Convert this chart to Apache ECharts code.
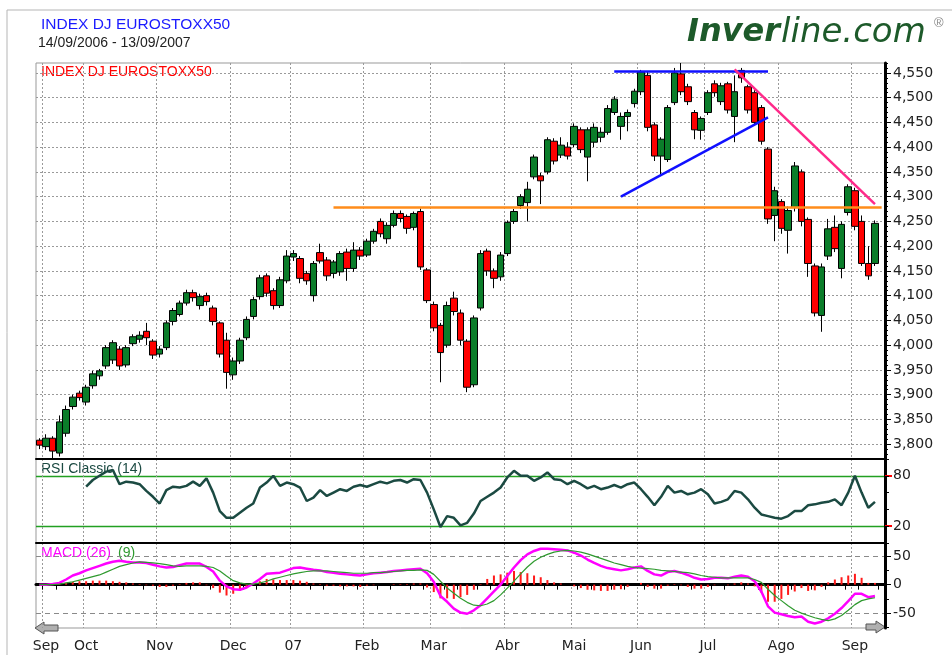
<!DOCTYPE html>
<html>
<head>
<meta charset="utf-8">
<title>INDEX DJ EUROSTOXX50</title>
<script src="https://cdn.jsdelivr.net/npm/echarts@6/dist/echarts.min.js"></script>
<style>
  html, body { margin: 0; padding: 0; background: #fff; }
  #chart { width: 952px; height: 655px; }
</style>
</head>
<body>
<div id="chart"></div>
<script>
// x axis: one slot per two trading days, 14/09/2006 - 13/09/2007
const categories = Array.from({ length: 127 }, (_, i) => 'd' + i);
const monthNames = ['Sep', 'Oct', 'Nov', 'Dec', '07', 'Feb', 'Mar', 'Abr', 'Mai', 'Jun', 'Jul', 'Ago', 'Sep'];
const monthStarts = [1, 7, 18, 29, 38, 49, 59, 70, 80, 90, 100, 111, 122];

// y tick labels
const priceTicks = [3800, 3850, 3900, 3950, 4000, 4050, 4100, 4150, 4200, 4250, 4300, 4350, 4400, 4450, 4500, 4550];
const rsiTicks = [20, 80];
const macdTicks = [-50, 0, 50];
const macdMinorTicks = [-75, -50, -25, 0, 25, 50];

// [open, close, low, high]
const candles = [
  [3808, 3798, 3790, 3812], [3795, 3812, 3788, 3820], [3812, 3786, 3772, 3816], [3782, 3845, 3775, 3858], [3822, 3870, 3815, 3878],
  [3876, 3895, 3870, 3900], [3903, 3894, 3888, 3908], [3885, 3915, 3878, 3920], [3918, 3942, 3912, 3948], [3938, 3948, 3930, 3952],
  [3958, 3995, 3952, 4000], [3970, 4005, 3962, 4010], [3992, 3958, 3950, 3998], [3960, 3995, 3955, 4000], [4003, 4017, 3998, 4022],
  [4012, 4020, 4005, 4028], [4028, 4015, 4000, 4045], [4008, 3980, 3972, 4012], [3982, 3992, 3975, 3998], [3995, 4045, 3990, 4050],
  [4048, 4070, 4040, 4075], [4062, 4085, 4058, 4090], [4085, 4106, 4080, 4112], [4106, 4096, 4088, 4112], [4080, 4098, 4072, 4104],
  [4100, 4088, 4080, 4106], [4075, 4048, 4040, 4080], [4045, 3982, 3975, 4048], [4010, 3945, 3912, 4025], [3940, 3968, 3930, 3975],
  [3968, 4010, 3962, 4015], [4015, 4052, 4010, 4058], [4058, 4092, 4052, 4098], [4098, 4136, 4092, 4142], [4140, 4105, 4098, 4145],
  [4110, 4080, 4072, 4115], [4080, 4132, 4075, 4138], [4130, 4180, 4125, 4192], [4178, 4185, 4170, 4192], [4175, 4135, 4125, 4180],
  [4145, 4130, 4122, 4150], [4100, 4165, 4088, 4170], [4187, 4170, 4165, 4205], [4172, 4140, 4130, 4178], [4145, 4168, 4135, 4172],
  [4148, 4185, 4140, 4190], [4188, 4155, 4130, 4195], [4155, 4192, 4148, 4208], [4192, 4180, 4172, 4198], [4182, 4210, 4178, 4215],
  [4210, 4230, 4205, 4235], [4250, 4225, 4218, 4256], [4215, 4242, 4205, 4248], [4242, 4266, 4238, 4272], [4266, 4256, 4248, 4272],
  [4260, 4236, 4225, 4264], [4238, 4266, 4232, 4270], [4270, 4158, 4152, 4276], [4152, 4090, 4085, 4156], [4082, 4035, 4028, 4088],
  [4040, 3985, 3925, 4045], [4000, 4080, 3995, 4088], [4095, 4068, 4060, 4108], [4065, 4010, 4000, 4072], [4008, 3915, 3905, 4012],
  [3920, 4055, 3915, 4060], [4075, 4185, 4070, 4192], [4190, 4150, 4140, 4195], [4150, 4135, 4115, 4155], [4138, 4182, 4130, 4188],
  [4185, 4248, 4180, 4252], [4250, 4270, 4245, 4275], [4282, 4300, 4275, 4305], [4288, 4315, 4250, 4330], [4340, 4380, 4335, 4385],
  [4342, 4332, 4285, 4348], [4350, 4415, 4345, 4420], [4412, 4372, 4365, 4418], [4384, 4404, 4378, 4420], [4400, 4382, 4375, 4410],
  [4405, 4442, 4400, 4448], [4435, 4395, 4388, 4440], [4380, 4435, 4331, 4440], [4410, 4440, 4400, 4448], [4420, 4430, 4410, 4440],
  [4430, 4478, 4425, 4485], [4470, 4497, 4465, 4503], [4442, 4462, 4415, 4470], [4462, 4470, 4432, 4476], [4488, 4513, 4480, 4518],
  [4512, 4552, 4505, 4556], [4545, 4440, 4432, 4552], [4445, 4382, 4372, 4450], [4382, 4416, 4345, 4420], [4375, 4480, 4370, 4485],
  [4490, 4550, 4485, 4560], [4548, 4512, 4505, 4570], [4522, 4492, 4485, 4528], [4470, 4435, 4416, 4475], [4434, 4458, 4415, 4462],
  [4470, 4510, 4465, 4515], [4528, 4510, 4502, 4535], [4492, 4524, 4485, 4530], [4528, 4475, 4468, 4532], [4462, 4512, 4410, 4545],
  [4555, 4540, 4530, 4560], [4522, 4475, 4468, 4526], [4510, 4450, 4445, 4515], [4480, 4412, 4405, 4485], [4396, 4255, 4245, 4400],
  [4262, 4312, 4210, 4320], [4290, 4236, 4225, 4295], [4232, 4272, 4185, 4280], [4278, 4362, 4270, 4370], [4350, 4250, 4240, 4355],
  [4254, 4165, 4138, 4258], [4160, 4065, 4058, 4165], [4060, 4158, 4027, 4165], [4180, 4235, 4172, 4255], [4238, 4195, 4188, 4262],
  [4155, 4244, 4135, 4250], [4268, 4320, 4262, 4325], [4312, 4240, 4232, 4318], [4250, 4165, 4160, 4262], [4165, 4140, 4132, 4200],
  [4165, 4246, 4160, 4252]
];

const rsi = [
  null, null, null, null, null, null, null, 67, 75, 80,
  85, 87, 70, 73, 72, 70, 62, 55, 47, 63,
  67, 66, 68, 73, 68, 77, 60, 38, 30, 30,
  36, 42, 47, 66, 72, 80, 68, 72, 70, 66,
  50, 54, 63, 56, 60, 64, 62, 67, 69, 67,
  70, 73, 71, 74, 75, 72, 76, 75, 60, 40,
  19, 32, 30, 21, 24, 35, 50, 55, 60, 66,
  78, 86, 80, 80, 74, 78, 84, 76, 75, 70,
  74, 70, 65, 68, 64, 66, 69, 66, 70, 72,
  64, 55, 45, 55, 68, 60, 62, 58, 60, 64,
  58, 47, 49, 52, 62, 60, 52, 42, 34, 32,
  30, 29, 32, 38, 38, 45, 46, 48, 49, 52,
  45, 60, 80, 60, 42, 49
];

const macd = [
  0, 0, 1, 3, 9, 16, 20, 25, 29, 33,
  37, 40, 42, 40, 39, 39, 38, 35, 32, 30,
  31, 34, 37, 37, 37, 31, 23, 7, -3, -8,
  -9, -5, 2, 10, 19, 20, 21, 25, 29, 30,
  28, 26, 25, 22, 21, 19, 18, 17, 16, 18,
  20, 21, 22, 24, 25, 26, 27, 28, 20, 5,
  -20, -30, -42, -49, -51, -45, -36, -24, -12, 0,
  15, 30, 43, 53, 59, 63, 63, 62, 61, 60,
  56, 51, 44, 38, 33, 29, 27, 25, 27, 30,
  32, 24, 18, 16, 22, 24, 21, 17, 12, 9,
  10, 12, 12, 11, 14, 16, 14, 6, -12, -38,
  -49, -52, -55, -57, -56, -65, -68, -65, -59, -51,
  -41, -29, -16, -16, -22, -20
];

const signal = [
  0, 0, 0, 1, 3, 5, 8, 11, 14, 17,
  22, 27, 32, 35, 38, 40, 39, 38, 37, 35,
  33, 32, 33, 33, 33, 32, 30, 24, 15, 7,
  3, 1, 1, 3, 6, 10, 13, 16, 19, 21,
  23, 24, 24, 24, 23, 22, 21, 20, 20, 20,
  21, 21, 22, 23, 24, 25, 25, 26, 25, 18,
  6, -6, -15, -24, -31, -36, -37, -34, -28, -18,
  -6, 6, 19, 31, 41, 48, 53, 57, 59, 60,
  59, 57, 54, 50, 46, 42, 38, 35, 32, 30,
  29, 28, 27, 25, 24, 23, 22, 21, 19, 16,
  14, 13, 12, 12, 12, 12, 12, 9, 4, -8,
  -19, -28, -37, -45, -50, -54, -58, -61, -63, -60,
  -54, -45, -35, -28, -25, -23
];

const histogram = [
  0, 0, 1, 2, 3, 5, 6, 6, 7, 7,
  7, 6, 5, 4, 2, 1, -1, -2, -4, -4,
  -2, 1, 3, 4, 4, -1, -6, -14, -19, -16,
  -11, -6, 1, 6, 10, 9, 8, 8, 8, 7,
  5, 2, 1, -2, -2, -3, -3, -3, -4, -2,
  -1, 0, 0, 1, 1, 1, 2, 2, -5, -13,
  -24, -24, -25, -22, -18, -9, 1, 10, 16, 18,
  21, 24, 22, 20, 16, 13, 8, 4, 2, 0,
  -3, -6, -9, -10, -11, -11, -9, -8, -4, 0,
  3, -4, -7, -7, -2, 1, -1, -4, -7, -7,
  -4, -1, 0, -1, 2, 4, 2, -3, -14, -30,
  -30, -25, -18, -12, -6, -11, -10, -4, 4, 9,
  13, 16, 19, 12, 3, 3
];

// hand-drawn trend lines: [startSlot, startValue, endSlot, endValue, colour]
const trendLines = [
  [44, 4278, 126, 4278, '#ff8c1a'],
  [86, 4553, 109, 4553, '#1010ff'],
  [87, 4300, 109, 4460, '#1010ff'],
  [104, 4557, 125, 4285, '#ff2a8a']
];

const AXIS_FONT = '"DejaVu Sans", Verdana, sans-serif';
const TITLE_FONT = '"Liberation Sans", Arial, sans-serif';
const isMonthStart = (i) => monthStarts.indexOf(i) >= 0;
// marcas semanales bajo el eje (cada 2-3 huecos)
const isWeekTick = (i) => i % 5 === 1 || i % 5 === 3;

function xAxisFor(gridIndex) {
  const last = gridIndex === 2;
  return {
    type: 'category',
    gridIndex: gridIndex,
    data: categories,
    boundaryGap: true,
    axisLine: { show: true, lineStyle: { color: '#000', width: last ? 3 : 2 } },
    axisTick: {
      show: last,
      interval: (i) => isWeekTick(i),
      length: 5,
      lineStyle: { color: '#000', width: 1 }
    },
    axisLabel: {
      show: last,
      interval: (i) => isMonthStart(i),
      formatter: (v, i) => monthNames[monthStarts.indexOf(i)] || '',
      color: '#222',
      fontFamily: AXIS_FONT,
      fontSize: 14,
      margin: 11
    },
    splitLine: {
      show: true,
      interval: (i) => isMonthStart(i),
      lineStyle: { color: '#9a9a9a', type: [2, 2], width: 1 }
    }
  };
}

const labelStyle = { color: '#222', fontFamily: AXIS_FONT, fontSize: 14, margin: 8 };

const myChart = echarts.init(document.getElementById('chart'));
myChart.setOption({
  animation: false,
  backgroundColor: '#fff',
  grid: [
    { left: 36, right: 67, top: 63, height: 396, show: true, borderColor: '#999', borderWidth: 1 },
    { left: 36, right: 67, top: 459, height: 84, show: true, borderColor: '#999', borderWidth: 1 },
    { left: 36, right: 67, top: 543, height: 85, show: true, borderColor: '#999', borderWidth: 1 }
  ],
  xAxis: [xAxisFor(0), xAxisFor(1), xAxisFor(2)],
  yAxis: [
    {
      type: 'value', gridIndex: 0, position: 'right', min: 3770, max: 4570,
      axisLine: { show: true, lineStyle: { color: '#000', width: 3 } },
      axisTick: { show: true, customValues: priceTicks, length: 6, lineStyle: { color: '#000' } },
      axisLabel: Object.assign({ customValues: priceTicks, formatter: (v) => v.toLocaleString('en-US') }, labelStyle),
      splitLine: { show: true, lineStyle: { color: '#9a9a9a', type: [2, 2] } }
    },
    {
      type: 'value', gridIndex: 0, position: 'right', min: 3770, max: 4570, interval: 10,
      axisLine: { show: false },
      axisTick: { show: true, length: 3, lineStyle: { color: '#000' } },
      axisLabel: { show: false },
      splitLine: { show: false }
    },
    {
      type: 'value', gridIndex: 1, position: 'right', min: 0, max: 100,
      axisLine: { show: true, lineStyle: { color: '#000', width: 3 } },
      axisTick: { show: true, customValues: rsiTicks, length: 7, lineStyle: { color: '#ff0000', width: 2 } },
      axisLabel: Object.assign({ customValues: rsiTicks }, labelStyle),
      splitLine: { show: true, lineStyle: { color: '#22a022', width: 1.3 } }
    },
    {
      type: 'value', gridIndex: 1, position: 'right', min: 0, max: 100, interval: 20,
      axisLine: { show: false },
      axisTick: { show: true, length: 4, lineStyle: { color: '#000' } },
      axisLabel: { show: false },
      splitLine: { show: false }
    },
    {
      type: 'value', gridIndex: 2, position: 'right', min: -76, max: 73,
      axisLine: { show: true, lineStyle: { color: '#000', width: 3 } },
      axisTick: { show: true, customValues: macdTicks, length: 6, lineStyle: { color: '#000' } },
      axisLabel: Object.assign({ customValues: macdTicks }, labelStyle),
      splitLine: { show: true, lineStyle: { color: ['#8a8a8a', '#ff0000', '#8a8a8a'], type: [5, 4], width: 1 } }
    },
    {
      type: 'value', gridIndex: 2, position: 'right', min: -76, max: 73,
      axisLine: { show: false },
      axisTick: { show: true, customValues: macdMinorTicks, length: 4, lineStyle: { color: '#000' } },
      axisLabel: { show: false },
      splitLine: { show: false }
    }
  ],
  series: [
    {
      name: 'INDEX DJ EUROSTOXX50',
      type: 'candlestick',
      xAxisIndex: 0,
      yAxisIndex: 0,
      data: candles.map((c) => [c[0], c[1], c[2], c[3]]),
      barWidth: 7,
      itemStyle: {
        color: '#0b7d2a', // subida
        color0: '#ff0000', // bajada
        borderColor: '#000',
        borderColor0: '#000',
        borderWidth: 1
      },
      markLine: {
        silent: true,
        symbol: ['none', 'none'],
        label: { show: false },
        data: trendLines.map((t) => [
          { coord: [categories[t[0]], t[1]], lineStyle: { color: t[4], width: 2.5, type: 'solid' } },
          { coord: [categories[t[2]], t[3]] }
        ])
      }
    },
    {
      name: 'RSI Classic (14)',
      type: 'line',
      xAxisIndex: 1,
      yAxisIndex: 2,
      data: rsi,
      showSymbol: false,
      lineStyle: { color: '#1b4a42', width: 2.5 }
    },
    {
      name: 'Histograma',
      type: 'bar',
      xAxisIndex: 2,
      yAxisIndex: 4,
      data: histogram,
      barWidth: 2,
      itemStyle: { color: '#ff1a1a' }
    },
    {
      name: 'MACD (26)',
      type: 'line',
      xAxisIndex: 2,
      yAxisIndex: 4,
      data: macd,
      showSymbol: false,
      lineStyle: { color: '#ff00ff', width: 2.5 }
    },
    {
      name: 'Signal (9)',
      type: 'line',
      xAxisIndex: 2,
      yAxisIndex: 4,
      data: signal,
      showSymbol: false,
      lineStyle: { color: '#2f9a2f', width: 1.2 }
    }
  ],
  graphic: [
    // marco exterior
    { type: 'line', shape: { x1: 7, y1: 10, x2: 952, y2: 10 }, style: { stroke: '#b5b5b5', lineWidth: 1 } },
    { type: 'line', shape: { x1: 7, y1: 10, x2: 7, y2: 655 }, style: { stroke: '#b5b5b5', lineWidth: 1 } },
    { type: 'text', x: 41, y: 25, style: { text: 'INDEX DJ EUROSTOXX50', fill: '#1a1aff', font: '15.5px ' + TITLE_FONT, verticalAlign: 'middle' } },
    { type: 'text', x: 38, y: 43, style: { text: '14/09/2006 - 13/09/2007', fill: '#222', font: '14px ' + TITLE_FONT, verticalAlign: 'middle' } },
    { type: 'text', x: 687, y: 33, style: { text: 'Inver', fill: '#1d5a2a', font: 'italic bold 32px "DejaVu Sans"', verticalAlign: 'middle' } },
    { type: 'text', x: 781, y: 33, style: { text: 'line.com', fill: '#1d5a2a', font: 'italic 34px "DejaVu Sans"', verticalAlign: 'middle' } },
    { type: 'text', x: 934, y: 23, style: { text: '®', fill: '#888', font: '13px ' + TITLE_FONT, verticalAlign: 'middle' } },
    { type: 'text', x: 41, y: 72, style: { text: 'INDEX DJ EUROSTOXX50', fill: '#ff0000', font: '14px ' + TITLE_FONT, verticalAlign: 'middle' } },
    { type: 'text', x: 41, y: 469, style: { text: 'RSI Classic (14)', fill: '#1b4a42', font: '14px ' + TITLE_FONT, verticalAlign: 'middle' } },
    { type: 'text', x: 41, y: 553, style: { text: 'MACD (26)', fill: '#ff00ff', font: '14px ' + TITLE_FONT, verticalAlign: 'middle' } },
    { type: 'text', x: 118, y: 553, style: { text: '(9)', fill: '#2f9a2f', font: '14px ' + TITLE_FONT, verticalAlign: 'middle' } },
    // flechas de desplazamiento
    {
      type: 'polygon',
      shape: { points: [[35, 628], [44, 622], [44, 625], [58, 625], [58, 631], [44, 631], [44, 634]] },
      style: { fill: '#b0b0b0', stroke: '#555', lineWidth: 1 }
    },
    {
      type: 'polygon',
      shape: { points: [[885, 627], [876, 621], [876, 624], [866, 624], [866, 630], [876, 630], [876, 633]] },
      style: { fill: '#b0b0b0', stroke: '#555', lineWidth: 1 }
    }
  ]
});
</script>
</body>
</html>
